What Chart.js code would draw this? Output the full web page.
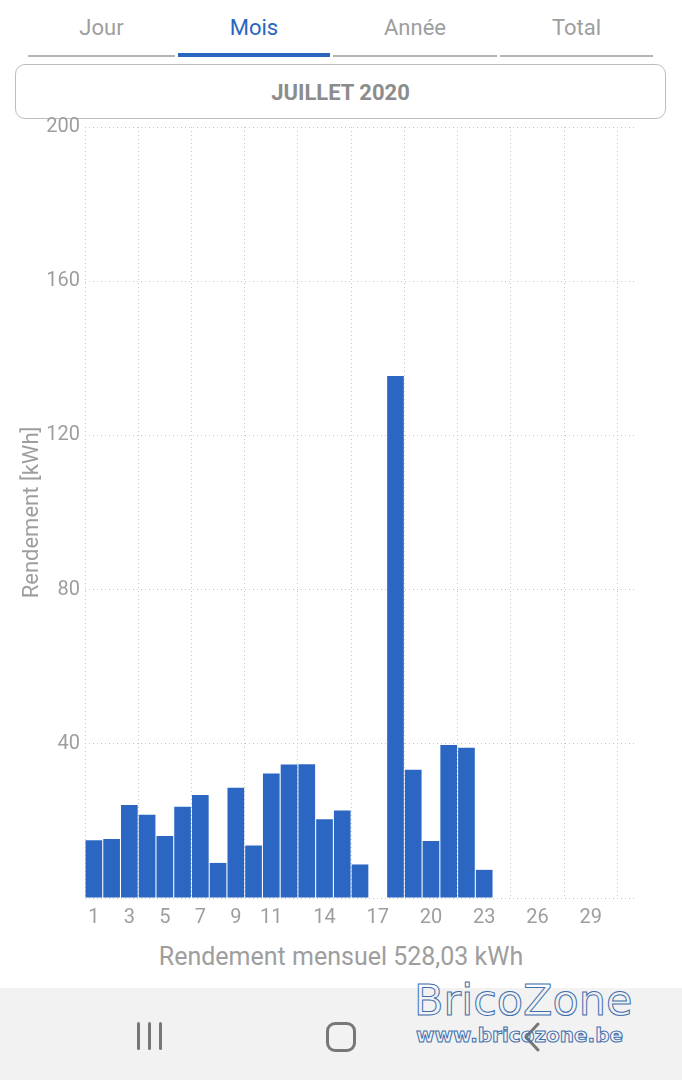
<!DOCTYPE html>
<html>
<head>
<meta charset="utf-8">
<script src="https://cdn.jsdelivr.net/npm/chart.js@4.4.0/dist/chart.umd.min.js"></script>
<style>
  body { margin: 0; width: 682px; height: 1080px; background: #fff; font-family: Roboto, "Noto Sans", sans-serif; position: relative; overflow: hidden; }
  .tab { position: absolute; top: 15px; font-size: 22px; color: #9e9e9e; text-align: center; }
  .line { position: absolute; top: 55px; height: 2px; background: #b5b5b5; }
  .box { position: absolute; left: 15px; top: 64px; width: 649px; height: 53px; border: 1.5px solid #bdbdbd; border-radius: 10px;
         text-align: center; line-height: 55px; font-size: 22px; font-weight: bold; color: #8c8c8c; }
  #wrap { position: absolute; left: 0; top: 110px; width: 682px; height: 828px; }
  .total { position: absolute; left: 0; top: 942px; width: 682px; text-align: center; font-size: 25px; color: #9e9e9e; }
  .nav { position: absolute; left: 0; top: 988px; width: 682px; height: 92px; background: #f2f2f2; }
  .bar { position: absolute; top: 1022px; width: 3px; height: 28px; background: #777; border-radius: 2px; }
  .home { position: absolute; left: 326px; top: 1022px; width: 24px; height: 24px; border: 3px solid #777; border-radius: 9px; }
  .wm { position: absolute; color: transparent; -webkit-text-stroke: 1px #3f6fae; font-family: "DejaVu Sans", sans-serif; }
</style>
</head>
<body>
<div class="tab" style="left:28px;width:147px;">Jour</div>
<div class="tab" style="left:178px;width:152px;color:#2a66c0;">Mois</div>
<div class="tab" style="left:333px;width:164px;">Année</div>
<div class="tab" style="left:500px;width:153px;">Total</div>
<div class="line" style="left:28px;width:147px;"></div>
<div class="line" style="left:178px;width:152px;top:53px;height:4px;background:#2a66c0;"></div>
<div class="line" style="left:333px;width:164px;"></div>
<div class="line" style="left:500px;width:153px;"></div>
<div class="box">JUILLET 2020</div>

<div id="wrap"><canvas id="yieldChart"></canvas></div>
<div class="total">Rendement mensuel 528,03 kWh</div>

<div class="nav"></div>
<div class="bar" style="left:137px;"></div>
<div class="bar" style="left:148px;"></div>
<div class="bar" style="left:159px;"></div>
<div class="home"></div>
<svg style="position:absolute;left:522px;top:1022px;" width="20" height="30"><polyline points="16,2 4,15 16,28" fill="none" stroke="#777" stroke-width="3" stroke-linecap="round" stroke-linejoin="round"/></svg>
<div class="wm" style="left:414px;top:975px;font-size:43px;">BricoZone</div>
<div class="wm" style="left:416px;top:1023px;font-size:20px;font-weight:bold;">www.bricozone.be</div>

<script>
// daily yield, July 2020 (kWh) - days 24..31 have no data yet
const days = [];
for (let d = 1; d <= 31; d++) days.push(d);
const dailyYield = [15.0, 15.3, 24.1, 21.6, 16.1, 23.7, 26.7, 9.1, 28.6, 13.6,
                    32.3, 34.6, 34.7, 20.4, 22.7, 8.7, 0, 135.4, 33.3, 14.8,
                    39.7, 39.0, 7.3, null, null, null, null, null, null, null, null];
const shownDays = [1, 3, 5, 7, 9, 11, 14, 17, 20, 23, 26, 29];
const yTicks = [0, 40, 80, 120, 160, 200];

const gridGray = '#c6c6c6';
const textGray = '#9e9e9e';

function initYieldChart() {
    const ctx = document.getElementById("yieldChart");

    new Chart(ctx, {
        type: 'bar',
        data: {
            labels: days,
            datasets: [{
                label: 'Rendement',
                data: dailyYield,
                backgroundColor: '#2b67c2',
                borderWidth: 0,
                barPercentage: 1,
                categoryPercentage: 0.94
            }]
        },
        options: {
            responsive: true,
            maintainAspectRatio: false,
            animation: false,
            layout: {
                padding: { top: 6, right: 47, left: 0, bottom: 0 }
            },
            scales: {
                x: {
                    offset: true,
                    grid: {
                        offset: true,
                        drawTicks: false,
                        lineWidth: 1,
                        color: function(c) {
                            return c.index % 3 === 0 ? gridGray : 'rgba(0,0,0,0)';
                        }
                    },
                    border: { display: false, dash: [1, 3] },
                    ticks: {
                        autoSkip: false,
                        maxRotation: 0,
                        color: textGray,
                        padding: 8,
                        font: { family: 'Roboto', size: 20 },
                        callback: function(value, index) {
                            const d = days[index];
                            return shownDays.includes(d) ? String(d) : '';
                        }
                    },
                    afterFit: function(scale) { scale.height = 40; }
                },
                y: {
                    min: 0,
                    max: 200,
                    afterBuildTicks: function(scale) {
                        scale.ticks = yTicks.map(v => ({ value: v }));
                    },
                    grid: {
                        drawTicks: false,
                        color: gridGray
                    },
                    border: { display: false, dash: [1, 3] },
                    ticks: {
                        color: textGray,
                        padding: 5,
                        font: { family: 'Roboto', size: 20 },
                        // no label on the baseline
                        callback: function(value) {
                            return value === 0 ? '' : value;
                        }
                    },
                    title: {
                        display: true,
                        text: 'Rendement [kWh]',
                        color: textGray,
                        font: { family: 'Roboto', size: 22 },
                        padding: { top: 19, bottom: 0 }
                    },
                    afterFit: function(scale) { scale.width = 85; }
                }
            },
            plugins: {
                legend: { display: false },
                tooltip: { enabled: false }
            }
        }
    });
}

initYieldChart();
</script>
</body>
</html>
